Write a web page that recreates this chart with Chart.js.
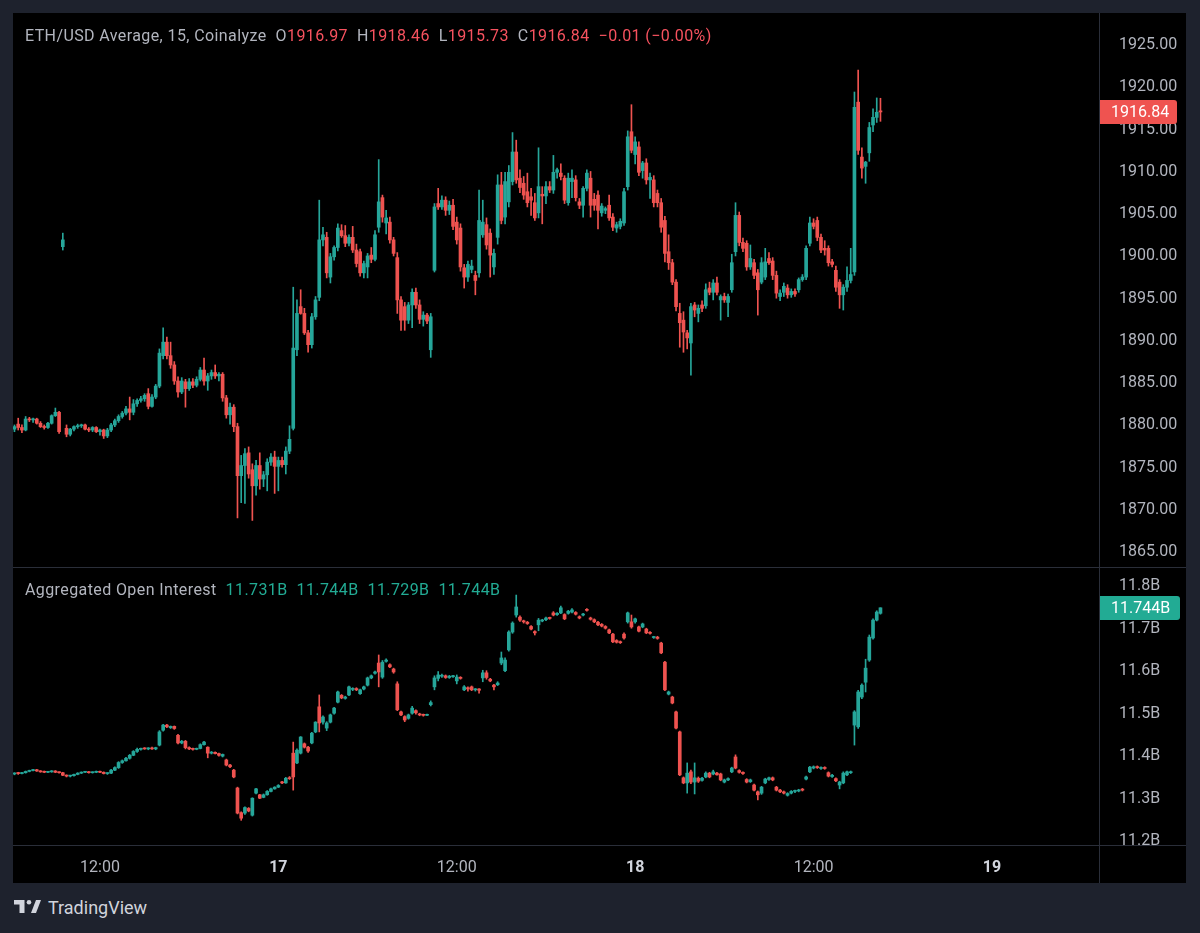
<!DOCTYPE html>
<html>
<head>
<meta charset="utf-8">
<script src="https://cdn.jsdelivr.net/npm/chart.js@4.4.0/dist/chart.umd.min.js"></script>
<style>
  body { margin: 0; width: 1200px; height: 933px; overflow: hidden; background: #1e222d; font-family: Roboto, sans-serif; }
  #frame { position: absolute; left: 13px; top: 13px; width: 1173px; height: 870px; background: #000; }
  #frame canvas { position: absolute; left: 0; }
  #price-chart { top: 0; }
  #oi-chart { top: 554px; }
  .line { position: absolute; background: #2a2e39; }
  .legend { position: absolute; left: 12px; font-size: 16px; line-height: 20px; letter-spacing: 0.4px; color: #b2b5be; white-space: pre; }
  .legend span { margin-left: 9px; }
  .legend .v { margin-left: 0; }
  .dn { color: #f7525f; }
  .up { color: #22ab94; }
  #brand { position: absolute; left: 14px; top: 898px; height: 20px; color: #d1d4dc; font-size: 18px; line-height: 20px; }
  #brand svg { position: absolute; left: 0; top: 2px; }
  #brand div { position: absolute; left: 34px; top: 0; white-space: nowrap; }
</style>
</head>
<body>
<div id="frame">
  <canvas id="price-chart" width="1173" height="554"></canvas>
  <canvas id="oi-chart" width="1173" height="316"></canvas>
  <div class="line" style="left:0;top:554px;width:1173px;height:1px"></div>
  <div class="line" style="left:0;top:832px;width:1173px;height:1px"></div>
  <div class="line" style="left:1086px;top:0;width:1px;height:870px"></div>
  <div class="legend" style="top:13px">ETH/USD Average, 15, Coinalyze<span>O</span><span class="v dn">1916.97</span><span>H</span><span class="v dn">1918.46</span><span>L</span><span class="v dn">1915.73</span><span>C</span><span class="v dn">1916.84</span><span class="dn">−0.01 (−0.00%)</span></div>
  <div class="legend" style="top:567px">Aggregated Open Interest<span class="up">11.731B</span><span class="up">11.744B</span><span class="up">11.729B</span><span class="up">11.744B</span></div>
</div>
<div id="brand">
  <svg width="28" height="13" viewBox="0 0 28 13"><path d="M0 0H10.5V13H5.5V4.6H0Z" fill="#d1d4dc"/><circle cx="15" cy="2.3" r="2.3" fill="#d1d4dc"/><path d="M17 13L22 0H27L22 13Z" fill="#d1d4dc"/></svg>
  <div>TradingView</div>
</div>
<script>
// 15 minute candles, [open, high, low, close], first one at 06:15 on the 16th
const priceCandles = [
  [1879.3,1879.8,1879.0,1879.6],[1879.9,1880.6,1879.2,1879.5],[1879.5,1879.8,1878.9,1879.2],[1879.2,1880.8,1879.1,1880.5],
  [1880.5,1880.7,1880.2,1880.4],[1880.4,1880.6,1880.1,1880.5],[1880.5,1880.6,1879.9,1880.0],[1880.0,1880.2,1879.5,1879.6],
  [1879.6,1879.8,1879.3,1879.5],[1879.5,1880.1,1879.4,1880.0],[1880.0,1881.0,1879.9,1880.9],[1880.9,1881.8,1880.8,1881.3],
  [1881.3,1881.4,1878.8,1879.0],[1900.9,1902.5,1900.5,1901.7],[1879.4,1879.8,1878.4,1878.7],[1878.7,1879.4,1878.5,1879.3],
  [1879.3,1879.7,1879.1,1879.6],[1879.6,1879.9,1879.4,1879.7],[1879.7,1879.9,1879.5,1879.8],[1879.8,1879.9,1879.2,1879.3],
  [1879.3,1879.5,1879.0,1879.2],[1879.2,1879.6,1879.0,1879.5],[1879.5,1879.6,1878.9,1879.0],[1879.0,1879.3,1878.6,1879.2],
  [1879.2,1879.3,1878.2,1878.5],[1878.5,1879.4,1878.3,1879.2],[1879.2,1880.0,1879.0,1879.8],[1879.8,1880.5,1879.6,1880.3],
  [1880.3,1881.0,1880.1,1880.8],[1880.8,1881.4,1880.6,1881.2],[1881.2,1882.0,1881.0,1881.7],[1881.7,1883.1,1880.4,1881.3],
  [1881.3,1882.8,1881.0,1882.3],[1882.3,1882.9,1882.0,1882.7],[1882.7,1883.2,1882.5,1882.9],[1882.9,1883.5,1882.6,1883.3],
  [1883.5,1884.1,1881.7,1882.0],[1882.0,1883.4,1881.9,1883.1],[1883.1,1884.6,1882.9,1884.4],[1884.4,1888.8,1884.2,1888.3],
  [1888.0,1891.3,1887.6,1889.6],[1889.6,1890.2,1887.6,1888.0],[1888.0,1889.6,1886.5,1886.9],[1886.9,1887.3,1884.6,1885.0],
  [1885.0,1885.5,1883.1,1883.7],[1883.7,1885.4,1883.5,1885.0],[1884.9,1885.2,1881.9,1884.1],[1884.1,1885.3,1883.9,1884.9],
  [1884.9,1885.3,1884.2,1884.5],[1884.5,1885.5,1884.3,1885.2],[1885.2,1886.6,1885.0,1886.3],[1886.3,1887.7,1884.5,1885.0],
  [1885.0,1885.9,1883.9,1885.6],[1885.6,1886.3,1885.2,1886.0],[1886.0,1886.9,1885.3,1885.6],[1885.6,1886.0,1885.0,1885.8],
  [1885.8,1886.0,1882.6,1883.0],[1883.0,1883.3,1880.6,1881.0],[1881.0,1882.4,1879.9,1881.9],[1881.9,1882.2,1879.0,1879.6],
  [1879.6,1880.0,1868.8,1873.8],[1873.8,1876.2,1870.6,1875.0],[1875.0,1877.0,1870.5,1876.4],[1876.5,1877.2,1873.5,1874.0],
  [1874.5,1875.2,1868.5,1872.6],[1872.6,1875.6,1871.5,1875.0],[1875.0,1876.5,1872.2,1873.4],[1873.4,1874.3,1872.5,1873.9],
  [1873.9,1875.8,1872.0,1875.4],[1875.4,1876.4,1875.0,1876.0],[1876.0,1876.7,1871.7,1874.9],[1874.9,1876.0,1872.0,1875.6],
  [1875.6,1876.0,1874.8,1875.1],[1875.1,1877.2,1874.0,1876.7],[1876.7,1879.7,1876.4,1878.1],[1879.4,1896.1,1879.2,1888.9],
  [1888.7,1894.6,1888.0,1893.0],[1893.8,1895.8,1892.9,1893.0],[1893.0,1893.6,1890.5,1890.7],[1890.7,1891.0,1888.4,1889.3],
  [1889.3,1893.0,1888.9,1892.6],[1892.6,1895.0,1892.3,1894.6],[1894.9,1906.4,1894.5,1901.7],[1901.7,1903.2,1901.0,1902.3],
  [1902.0,1902.6,1897.2,1897.8],[1897.3,1900.1,1896.6,1899.7],[1899.7,1901.0,1899.3,1900.8],[1900.8,1903.6,1900.4,1903.1],
  [1902.8,1903.5,1902.0,1902.2],[1902.2,1903.4,1900.9,1901.3],[1901.3,1902.3,1901.0,1902.0],[1902.0,1903.3,1900.2,1900.5],
  [1900.5,1901.2,1898.5,1898.9],[1900.3,1900.6,1897.4,1897.8],[1897.8,1899.2,1897.2,1898.9],[1898.5,1900.1,1897.2,1899.8],
  [1899.9,1900.8,1899.0,1899.4],[1899.4,1902.8,1899.2,1902.3],[1903.2,1911.2,1902.6,1906.2],[1906.7,1907.0,1903.8,1904.4],
  [1903.7,1905.2,1902.4,1904.3],[1903.8,1904.4,1901.3,1901.7],[1901.7,1902.0,1899.8,1900.1],[1899.6,1900.2,1893.0,1894.6],
  [1894.6,1895.0,1891.0,1892.2],[1893.8,1894.3,1891.0,1892.2],[1892.2,1894.3,1891.8,1894.0],[1894.0,1895.9,1891.3,1895.5],
  [1895.5,1896.0,1893.6,1894.0],[1894.0,1894.6,1891.8,1892.3],[1892.3,1893.2,1891.5,1892.8],[1892.8,1893.0,1891.8,1892.1],
  [1888.7,1893.0,1887.8,1892.6],[1898.1,1906.0,1897.9,1905.6],[1906.0,1907.8,1905.3,1905.6],[1905.6,1906.9,1905.3,1906.4],
  [1906.4,1906.8,1904.6,1905.2],[1905.2,1906.3,1904.7,1905.8],[1905.8,1906.5,1902.9,1903.3],[1903.8,1904.4,1901.2,1901.7],
  [1903.1,1903.6,1898.0,1898.5],[1898.4,1898.8,1896.0,1897.3],[1897.3,1899.2,1896.8,1898.8],[1898.2,1899.3,1897.8,1898.6],
  [1897.5,1898.0,1895.2,1896.9],[1897.8,1907.6,1897.3,1904.0],[1902.3,1906.4,1902.0,1903.8],[1903.5,1904.3,1900.6,1901.1],
  [1902.5,1903.0,1897.3,1899.9],[1898.5,1900.6,1897.6,1900.1],[1902.0,1909.4,1901.2,1908.2],[1908.2,1909.7,1903.6,1904.0],
  [1904.4,1909.7,1903.6,1908.6],[1906.2,1910.5,1905.6,1909.7],[1908.6,1914.4,1908.2,1912.1],[1912.1,1913.5,1908.4,1908.8],
  [1909.0,1910.0,1907.3,1907.9],[1908.4,1909.2,1906.5,1907.0],[1907.4,1909.6,1905.6,1906.1],[1906.8,1907.8,1904.6,1906.4],
  [1906.1,1907.2,1904.0,1904.3],[1904.9,1912.6,1904.3,1908.0],[1907.1,1908.0,1903.6,1906.9],[1906.9,1908.6,1906.0,1908.0],
  [1908.0,1908.6,1907.3,1907.6],[1907.6,1911.7,1907.2,1909.7],[1909.7,1910.2,1909.0,1910.0],[1909.6,1910.7,1908.8,1909.2],
  [1909.0,1909.3,1906.0,1906.4],[1906.1,1909.6,1905.8,1909.0],[1908.6,1910.0,1906.7,1909.0],[1908.8,1909.3,1906.3,1906.7],
  [1906.2,1906.6,1905.4,1905.8],[1905.8,1908.0,1904.4,1907.8],[1907.8,1910.0,1907.5,1909.6],[1909.0,1909.8,1904.4,1905.8],
  [1906.5,1907.2,1905.2,1905.8],[1907.0,1907.5,1903.0,1905.2],[1904.9,1906.0,1904.5,1905.7],[1905.2,1905.6,1904.8,1905.4],
  [1905.8,1907.0,1904.0,1904.3],[1904.4,1904.8,1902.8,1903.2],[1903.1,1903.8,1902.6,1903.5],[1903.3,1904.2,1903.0,1903.9],
  [1903.7,1907.8,1903.4,1907.4],[1908.0,1914.6,1907.6,1913.9],[1914.5,1917.7,1912.0,1912.3],[1911.8,1913.9,1910.7,1913.3],
  [1912.7,1913.3,1909.3,1909.7],[1909.9,1911.0,1909.0,1910.8],[1910.8,1911.3,1908.3,1908.8],[1908.8,1909.6,1906.6,1909.1],
  [1908.8,1909.3,1905.6,1906.1],[1907.2,1907.6,1905.6,1906.1],[1906.1,1906.6,1902.6,1903.2],[1904.0,1904.5,1899.1,1900.1],
  [1900.3,1902.3,1898.2,1899.0],[1899.0,1899.4,1896.4,1896.7],[1896.7,1897.0,1893.3,1893.8],[1893.0,1894.2,1889.0,1891.9],
  [1892.2,1893.2,1888.4,1890.8],[1890.7,1891.0,1888.8,1890.1],[1889.5,1894.2,1885.7,1893.8],[1894.0,1894.3,1892.6,1893.4],
  [1893.0,1894.0,1892.0,1893.6],[1894.0,1894.5,1893.2,1893.6],[1893.9,1896.5,1893.6,1895.8],[1896.0,1896.7,1895.2,1895.5],
  [1895.5,1897.0,1894.6,1896.6],[1896.6,1897.3,1895.2,1895.5],[1894.6,1895.2,1892.2,1895.0],[1895.0,1895.4,1894.3,1894.6],
  [1894.3,1895.3,1892.6,1895.0],[1895.8,1900.0,1895.5,1899.0],[1900.3,1906.1,1899.8,1904.6],[1904.6,1905.0,1901.0,1901.4],
  [1901.4,1901.9,1900.3,1900.7],[1901.3,1901.6,1898.1,1898.5],[1898.5,1901.1,1898.2,1899.5],[1899.0,1899.4,1897.1,1897.5],
  [1897.8,1898.2,1892.8,1895.8],[1896.7,1899.6,1896.5,1899.0],[1897.3,1900.7,1897.0,1899.1],[1899.5,1900.2,1898.8,1899.0],
  [1899.2,1899.6,1897.0,1897.5],[1897.5,1898.0,1894.8,1895.4],[1895.0,1895.8,1894.5,1895.4],[1895.5,1896.6,1895.0,1896.2],
  [1896.0,1896.4,1894.8,1895.2],[1895.2,1895.9,1894.9,1895.6],[1895.6,1895.9,1895.0,1895.3],[1895.8,1897.2,1895.5,1897.0],
  [1897.0,1897.6,1896.8,1897.3],[1897.3,1901.0,1897.0,1900.7],[1901.3,1904.4,1901.0,1903.7],[1903.7,1904.2,1903.0,1903.3],
  [1904.0,1904.4,1901.6,1902.0],[1902.0,1902.4,1900.2,1900.5],[1900.7,1901.6,1899.9,1900.5],[1900.7,1901.0,1898.6,1899.0],
  [1899.1,1899.4,1898.5,1898.8],[1898.1,1898.6,1895.6,1896.1],[1896.7,1897.0,1893.6,1895.2],[1895.2,1896.4,1893.4,1896.1],
  [1896.1,1898.5,1895.6,1896.9],[1896.9,1900.7,1896.6,1897.6],[1897.9,1919.2,1897.5,1917.4],[1918.0,1921.8,1911.8,1912.3],
  [1911.5,1912.6,1909.0,1910.2],[1910.4,1911.0,1908.4,1910.9],[1912.0,1915.6,1911.0,1915.0],[1915.3,1917.2,1914.5,1916.2],
  [1916.2,1918.5,1915.6,1916.8],[1916.97,1918.46,1915.73,1916.84]
];

// aggregated open interest, billions, same candles
const oiCandles = [
  [11.353,11.356,11.351,11.355],[11.355,11.357,11.352,11.354],[11.354,11.357,11.353,11.356],[11.356,11.360,11.355,11.359],
  [11.359,11.362,11.358,11.361],[11.361,11.364,11.360,11.363],[11.363,11.364,11.359,11.360],[11.360,11.361,11.357,11.358],
  [11.358,11.360,11.356,11.357],[11.357,11.359,11.356,11.358],[11.358,11.361,11.357,11.360],[11.360,11.361,11.356,11.357],
  [11.357,11.358,11.355,11.356],[11.356,11.357,11.349,11.350],[11.350,11.351,11.346,11.348],[11.348,11.350,11.346,11.349],
  [11.349,11.353,11.348,11.352],[11.352,11.356,11.351,11.355],[11.355,11.358,11.354,11.357],[11.357,11.359,11.356,11.358],
  [11.358,11.359,11.355,11.356],[11.356,11.358,11.355,11.357],[11.357,11.360,11.356,11.359],[11.359,11.360,11.356,11.357],
  [11.357,11.358,11.353,11.354],[11.354,11.356,11.352,11.355],[11.355,11.364,11.354,11.362],[11.362,11.370,11.361,11.368],
  [11.368,11.382,11.366,11.380],[11.380,11.386,11.378,11.384],[11.384,11.392,11.383,11.390],[11.390,11.399,11.388,11.397],
  [11.397,11.408,11.396,11.406],[11.406,11.414,11.404,11.411],[11.411,11.414,11.409,11.413],[11.413,11.415,11.411,11.412],
  [11.412,11.415,11.410,11.414],[11.414,11.416,11.411,11.412],[11.412,11.416,11.410,11.415],[11.421,11.455,11.419,11.452],
  [11.456,11.470,11.454,11.468],[11.468,11.470,11.462,11.464],[11.462,11.466,11.460,11.465],[11.465,11.466,11.458,11.460],
  [11.444,11.446,11.424,11.426],[11.426,11.432,11.424,11.430],[11.430,11.432,11.412,11.415],[11.415,11.417,11.410,11.412],
  [11.412,11.414,11.409,11.411],[11.411,11.414,11.410,11.413],[11.413,11.424,11.412,11.422],[11.422,11.430,11.421,11.428],
  [11.416,11.417,11.391,11.402],[11.402,11.406,11.400,11.404],[11.404,11.405,11.400,11.401],[11.401,11.402,11.395,11.397],
  [11.395,11.400,11.393,11.399],[11.386,11.388,11.372,11.374],[11.374,11.376,11.368,11.370],[11.362,11.364,11.344,11.346],
  [11.320,11.322,11.259,11.261],[11.262,11.264,11.244,11.249],[11.261,11.276,11.258,11.274],[11.272,11.274,11.264,11.266],
  [11.256,11.297,11.254,11.296],[11.308,11.319,11.306,11.318],[11.304,11.305,11.295,11.296],[11.298,11.306,11.297,11.304],
  [11.304,11.314,11.303,11.312],[11.312,11.320,11.311,11.318],[11.318,11.323,11.317,11.322],[11.322,11.328,11.321,11.326],
  [11.334,11.336,11.330,11.332],[11.332,11.345,11.331,11.343],[11.343,11.347,11.340,11.342],[11.402,11.428,11.315,11.346],
  [11.379,11.412,11.377,11.409],[11.402,11.441,11.400,11.440],[11.424,11.426,11.414,11.416],[11.416,11.418,11.404,11.407],
  [11.426,11.451,11.424,11.449],[11.452,11.476,11.450,11.475],[11.511,11.539,11.452,11.473],[11.475,11.490,11.470,11.487],
  [11.461,11.476,11.455,11.473],[11.475,11.494,11.473,11.492],[11.496,11.510,11.494,11.508],[11.522,11.548,11.520,11.546],
  [11.538,11.540,11.530,11.532],[11.531,11.536,11.529,11.534],[11.539,11.560,11.537,11.558],[11.552,11.556,11.549,11.554],
  [11.554,11.556,11.549,11.551],[11.542,11.553,11.540,11.551],[11.553,11.560,11.551,11.558],[11.562,11.581,11.560,11.579],
  [11.579,11.586,11.577,11.584],[11.590,11.595,11.588,11.593],[11.614,11.633,11.558,11.593],[11.581,11.620,11.578,11.616],
  [11.618,11.624,11.616,11.621],[11.610,11.612,11.603,11.605],[11.600,11.602,11.590,11.593],[11.565,11.570,11.502,11.504],
  [11.499,11.501,11.490,11.492],[11.488,11.490,11.476,11.480],[11.484,11.494,11.482,11.492],[11.496,11.512,11.494,11.508],
  [11.502,11.504,11.494,11.497],[11.494,11.496,11.490,11.492],[11.492,11.494,11.489,11.491],[11.491,11.494,11.490,11.493],
  [11.516,11.525,11.513,11.521],[11.558,11.584,11.551,11.579],[11.578,11.594,11.572,11.586],[11.583,11.588,11.580,11.584],
  [11.584,11.586,11.578,11.580],[11.580,11.585,11.578,11.583],[11.582,11.585,11.580,11.584],[11.572,11.586,11.565,11.581],
  [11.580,11.582,11.576,11.578],[11.551,11.561,11.549,11.558],[11.556,11.558,11.548,11.553],[11.558,11.560,11.549,11.551],
  [11.551,11.554,11.548,11.553],[11.553,11.554,11.543,11.550],[11.579,11.597,11.570,11.591],[11.591,11.596,11.576,11.580],
  [11.576,11.578,11.570,11.572],[11.562,11.564,11.551,11.558],[11.563,11.570,11.561,11.567],[11.614,11.640,11.610,11.626],
  [11.596,11.626,11.594,11.621],[11.645,11.690,11.642,11.687],[11.687,11.711,11.684,11.708],[11.727,11.774,11.722,11.746],
  [11.722,11.725,11.712,11.715],[11.713,11.715,11.708,11.711],[11.710,11.712,11.705,11.707],[11.700,11.702,11.692,11.694],
  [11.688,11.690,11.680,11.685],[11.704,11.719,11.690,11.715],[11.713,11.717,11.711,11.715],[11.716,11.722,11.714,11.720],
  [11.720,11.722,11.717,11.719],[11.732,11.735,11.725,11.727],[11.728,11.733,11.726,11.731],[11.732,11.748,11.730,11.744],
  [11.728,11.730,11.716,11.718],[11.731,11.738,11.729,11.736],[11.734,11.742,11.732,11.739],[11.733,11.735,11.727,11.729],
  [11.723,11.725,11.718,11.720],[11.727,11.731,11.725,11.729],[11.740,11.742,11.736,11.738],[11.720,11.722,11.715,11.717],
  [11.716,11.718,11.709,11.711],[11.710,11.712,11.702,11.704],[11.705,11.707,11.699,11.701],[11.700,11.702,11.694,11.696],
  [11.692,11.694,11.683,11.685],[11.682,11.684,11.662,11.664],[11.667,11.669,11.661,11.663],[11.664,11.666,11.660,11.662],
  [11.682,11.685,11.670,11.673],[11.711,11.734,11.708,11.732],[11.711,11.727,11.696,11.699],[11.711,11.720,11.708,11.718],
  [11.699,11.701,11.687,11.689],[11.699,11.708,11.697,11.706],[11.694,11.696,11.683,11.685],[11.686,11.688,11.682,11.684],
  [11.674,11.677,11.672,11.676],[11.675,11.677,11.670,11.672],[11.661,11.663,11.636,11.638],[11.616,11.618,11.549,11.551],
  [11.541,11.548,11.539,11.546],[11.534,11.536,11.518,11.520],[11.499,11.501,11.459,11.461],[11.452,11.454,11.349,11.351],
  [11.344,11.346,11.330,11.332],[11.332,11.379,11.308,11.355],[11.358,11.362,11.330,11.334],[11.334,11.379,11.306,11.344],
  [11.343,11.346,11.333,11.336],[11.338,11.345,11.336,11.343],[11.346,11.358,11.344,11.355],[11.355,11.357,11.344,11.346],
  [11.353,11.362,11.351,11.358],[11.355,11.357,11.350,11.351],[11.353,11.355,11.337,11.339],[11.334,11.341,11.332,11.339],
  [11.339,11.344,11.337,11.342],[11.358,11.369,11.356,11.367],[11.393,11.398,11.365,11.367],[11.361,11.363,11.355,11.357],
  [11.357,11.358,11.352,11.354],[11.340,11.342,11.332,11.334],[11.335,11.341,11.333,11.339],[11.327,11.329,11.313,11.315],
  [11.311,11.313,11.292,11.304],[11.308,11.324,11.305,11.322],[11.332,11.343,11.330,11.341],[11.340,11.346,11.338,11.344],
  [11.344,11.346,11.337,11.339],[11.322,11.324,11.313,11.315],[11.315,11.317,11.309,11.311],[11.311,11.313,11.306,11.308],
  [11.303,11.309,11.301,11.307],[11.308,11.314,11.306,11.312],[11.312,11.315,11.309,11.313],[11.313,11.317,11.311,11.315],
  [11.317,11.319,11.313,11.315],[11.341,11.348,11.339,11.346],[11.358,11.371,11.356,11.369],[11.367,11.372,11.365,11.370],
  [11.370,11.372,11.366,11.368],[11.366,11.370,11.364,11.368],[11.368,11.370,11.364,11.366],[11.356,11.358,11.346,11.348],
  [11.347,11.352,11.345,11.350],[11.342,11.344,11.335,11.337],[11.327,11.336,11.318,11.334],[11.332,11.358,11.330,11.355],
  [11.351,11.360,11.349,11.358],[11.356,11.360,11.354,11.358],[11.468,11.502,11.421,11.499],[11.464,11.550,11.460,11.546],
  [11.534,11.565,11.530,11.562],[11.569,11.623,11.546,11.602],[11.621,11.680,11.618,11.675],[11.673,11.718,11.670,11.715],
  [11.715,11.737,11.713,11.734],[11.731,11.744,11.729,11.744]
];

const firstHour = 6.25;      // hours after 00:00 on the 16th
const candleHours = 0.25;
const timeTicks = [12, 24, 36, 48, 60, 72];
const timeTickLabels = ['12:00', '17', '12:00', '18', '12:00', '19'];
const priceTicks = [1865, 1870, 1875, 1880, 1885, 1890, 1895, 1900, 1905, 1910, 1915, 1920, 1925];
const oiTicks = [11.2, 11.3, 11.4, 11.5, 11.6, 11.7, 11.8];

const UP = '#26a69a';
const DOWN = '#ef5350';
const TEXT = '#b2b5be';

Chart.defaults.font.family = 'Roboto';
Chart.defaults.font.size = 16;

// day ticks ("17", "18") are drawn bold
function isDayTick(ctx) {
    var label = timeTickLabels[ctx.index];
    return label !== undefined && label.length < 3;
}

// floating bars: one thin bar for the wick, one wider for the body
function candleSets(candles) {
    var color = function (ctx) {
        var c = candles[ctx.dataIndex];
        if (!c) return UP;
        return c[3] < c[0] ? DOWN : UP;
    };
    return [{
        data: candles.map((c, i) => ({ x: firstHour + i * candleHours, y: [c[2], c[1]] })),
        backgroundColor: color,
        barThickness: 1,
        minBarLength: 1,
        grouped: false
    }, {
        data: candles.map((c, i) => ({ x: firstHour + i * candleHours, y: [c[0], c[3]] })),
        backgroundColor: color,
        barThickness: 3,
        minBarLength: 1,
        grouped: false
    }];
}

// coloured box with the last value on the price axis
const lastValueTag = {
    id: 'lastValueTag',
    afterDraw(chart, args, opts) {
        var ctx = chart.ctx;
        var left = chart.chartArea.right;
        var y = Math.round(chart.scales.y.getPixelForValue(opts.value));
        ctx.save();
        ctx.fillStyle = opts.color;
        ctx.beginPath();
        ctx.roundRect(left, y - 12, opts.width, 24, [0, 3, 3, 0]);
        ctx.fill();
        ctx.fillStyle = '#ffffff';
        ctx.font = '16px Roboto';
        ctx.textBaseline = 'middle';
        ctx.fillText(opts.text, left + 12, y + 1);
        ctx.restore();
    }
};

function xScale(show) {
    return {
        type: 'linear',
        display: show,
        min: 6.15,
        max: 79.2,
        offset: false,
        grid: { display: false },
        border: { display: false },
        afterBuildTicks: axis => { axis.ticks = timeTicks.map(v => ({ value: v })); },
        afterFit: axis => { axis.height = show ? 38 : 0; axis.paddingLeft = 0; axis.paddingRight = 0; },
        ticks: {
            autoSkip: false,
            maxRotation: 0,
            padding: 5,
            color: ctx => isDayTick(ctx) ? '#d1d4dc' : TEXT,
            font: ctx => ({ family: 'Roboto', size: 16, weight: isDayTick(ctx) ? 'bold' : 'normal' }),
            callback: (v, i) => timeTickLabels[i]
        }
    };
}

function yScale(min, max, tickValues, format) {
    return {
        position: 'right',
        min: min,
        max: max,
        grid: { display: false },
        border: { display: false },
        afterBuildTicks: axis => { axis.ticks = tickValues.map(v => ({ value: v })); },
        afterFit: axis => { axis.width = 87; axis.paddingTop = 0; axis.paddingBottom = 0; },
        ticks: { color: TEXT, padding: 12, labelOffset: 2, autoSkip: false, callback: format }
    };
}

function baseOptions() {
    return {
        responsive: false,
        animation: false,
        events: [],
        layout: { padding: 0 },
        plugins: { legend: { display: false }, tooltip: { enabled: false } }
    };
}

var lastPrice = priceCandles[priceCandles.length - 1][3];
var priceOptions = baseOptions();
priceOptions.scales = {
    x: xScale(false),
    y: yScale(1862.99, 1928.55, priceTicks, v => v.toFixed(2))
};
priceOptions.plugins.lastValueTag = { value: lastPrice, text: lastPrice.toFixed(2), color: '#ef5350', width: 78 };

new Chart(document.querySelector('#price-chart'), {
    type: 'bar',
    data: { datasets: candleSets(priceCandles) },
    options: priceOptions,
    plugins: [lastValueTag]
});

var lastOi = oiCandles[oiCandles.length - 1][3];
var oiOptions = baseOptions();
oiOptions.scales = {
    x: xScale(true),
    y: yScale(11.1859, 11.84, oiTicks, v => v.toFixed(1) + 'B')
};
oiOptions.plugins.lastValueTag = { value: lastOi, text: lastOi.toFixed(3) + 'B', color: '#22ab94', width: 81 };

new Chart(document.querySelector('#oi-chart'), {
    type: 'bar',
    data: { datasets: candleSets(oiCandles) },
    options: oiOptions,
    plugins: [lastValueTag]
});
</script>
</body>
</html>
